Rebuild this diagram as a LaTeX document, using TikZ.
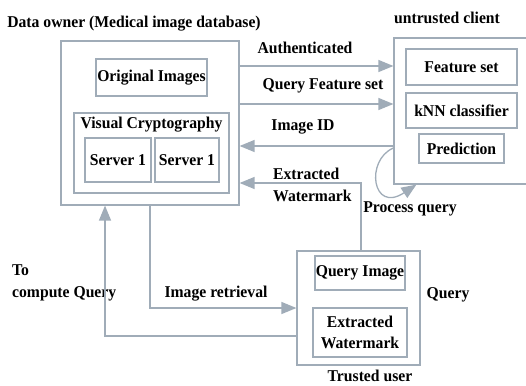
\documentclass[tikz,border=0pt]{standalone}
\usepackage{fontspec}
\setmainfont{Liberation Serif}[FakeStretch=0.95]
\usepackage{tikz}
\usetikzlibrary{arrows.meta}
\usepackage{xcolor}
\definecolor{linegray}{RGB}{160,172,184}

\tikzset{
  txt/.style={font=\fontsize{16.5}{21.5}\selectfont\bfseries, inner sep=0pt},
  boxb/.style={draw=linegray, line width=1.2pt, minimum width=#1, inner sep=0pt},
  conn/.style={draw=linegray, line width=1.3pt, -{Triangle[length=15pt,width=12pt]}},
}

\begin{document}
\begin{tikzpicture}[x=1pt,y=-1pt]
    \useasboundingbox (0,0) rectangle (526,385);
    % proprietaire des donnees
    \node[boxb=178pt, minimum height=164pt] (owner) at (150,123) {};
    \node[txt] (ownerlbl) at (134,24) {Data owner (Medical image database)};
    \node[boxb=111pt, minimum height=37pt, txt] (orig) at (151.5,77.5) {Original Images};
    \node[boxb=155pt, minimum height=80pt] (vc) at (151.5,153) {};
    \node[txt] (vclbl) at (151.5,125) {Visual Cryptography};
    \node[boxb=66pt, minimum height=44pt, txt] (srva) at (118,160) {Server 1};
    \node[boxb=64pt, minimum height=44pt, txt] (srvb) at (187,160) {Server 1};
    % client non fiable
    \node[boxb=136pt, minimum height=146pt] (client) at (462,111) {};
    \node[txt] (clientlbl) at (447,18) {untrusted client};
    \node[boxb=111pt, minimum height=36pt, txt] (feat) at (461.5,67) {Feature set};
    \node[boxb=111pt, minimum height=35pt, txt] (knn) at (461.5,110.5) {kNN classifier};
    \node[boxb=85pt, minimum height=29pt, txt] (pred) at (461.5,148.5) {Prediction};
    % utilisateur de confiance
    \node[boxb=123pt, minimum height=114pt] (trusted) at (358.5,308) {};
    \node[txt] (trustedlbl) at (370,376) {Trusted user};
    \node[boxb=90pt, minimum height=34pt, txt] (qimg) at (360,273) {Query Image};
    \node[boxb=94pt, minimum height=49pt, txt, align=center] (exwm) at (360,332.5) {Extracted\\Watermark};
    % etiquettes
    \node[txt] (authlbl) at (305,48) {Authenticated};
    \node[txt] (qfslbl) at (323,86) {Query Feature set};
    \node[txt] (idlbl) at (303,127) {Image ID};
    \node[txt, anchor=west, align=left] (wmlbl) at (273,185) {Extracted\\Watermark};
    \node[txt] (proclbl) at (410,209) {Process query};
    \node[txt, anchor=west, align=left] (complbl) at (12,283) {To\\compute Query};
    \node[txt] (retrlbl) at (216,294) {Image retrieval};
    \node[txt] (querylbl) at (448,295) {Query};
    % fleches
    \draw[conn] (owner.east |- 0,66) -- (client.west |- 0,66);
    \draw[conn] (owner.east |- 0,104) -- (client.west |- 0,104);
    \draw[conn] (client.west |- 0,146) -- (owner.east |- 0,146);
    \draw[conn] ([xshift=2.5pt]trusted.north) |- (owner.east |- 0,183);
    \draw[conn] (client.west |- 0,148) .. controls (365,160) and (372,214) .. ([xshift=23pt]client.south west);
    \draw[conn] (owner.south) |- (trusted.west);
    \draw[conn] (trusted.west |- 0,336) -| ([xshift=-45pt]owner.south);
\end{tikzpicture}
\end{document}
